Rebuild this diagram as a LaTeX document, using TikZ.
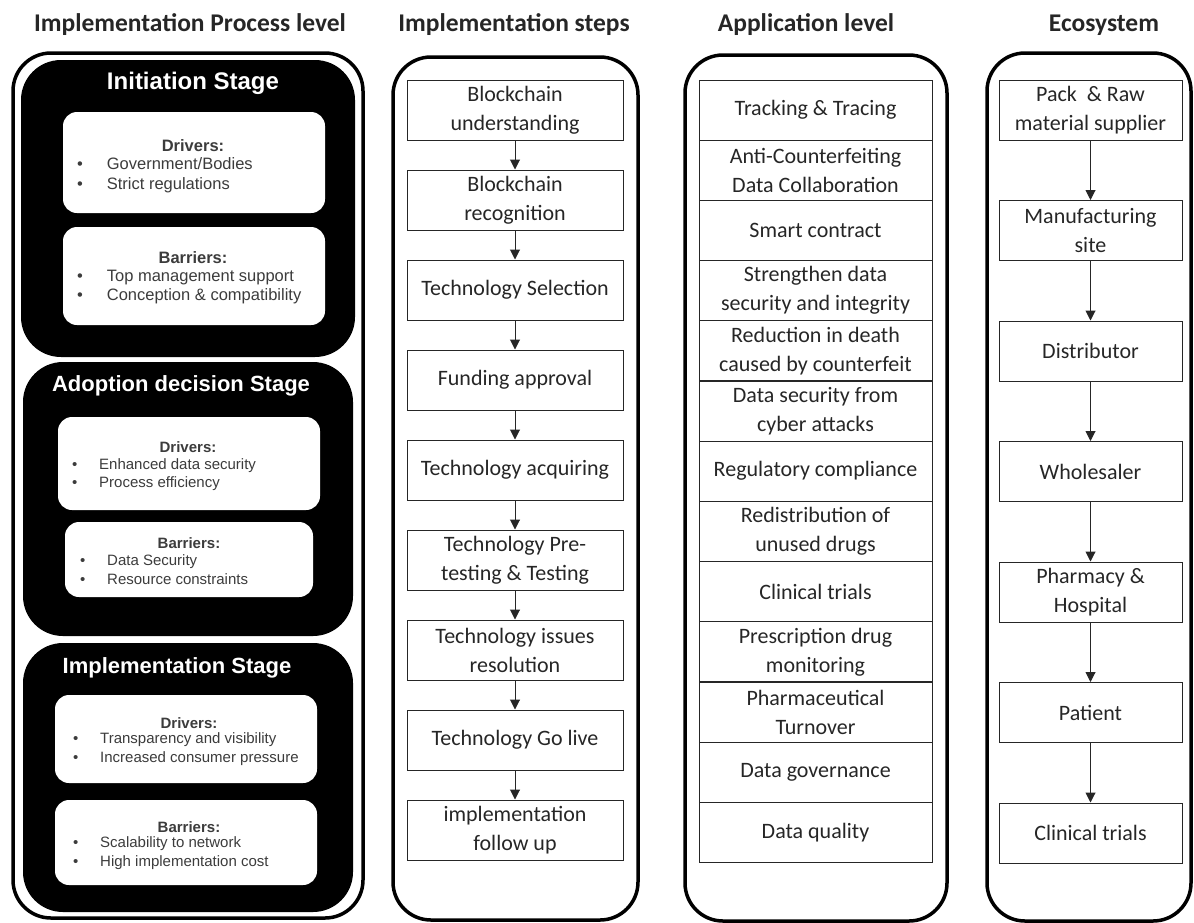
\documentclass[tikz,border=0pt]{standalone}
\usepackage{fontspec}
\setmainfont{Carlito}
\newfontfamily\arialfont{Liberation Sans}
\usetikzlibrary{arrows.meta, positioning}
\definecolor{ink}{HTML}{262626}
\definecolor{note}{HTML}{3C3C3C}
\newcommand{\bul}[1]{\makebox[1.8em][l]{\textbullet}#1}

\begin{document}
\begin{tikzpicture}[x=1pt, y=-1pt,
  colhead/.style={font=\fontsize{25.5}{30}\selectfont\bfseries, text=ink},
  frame/.style={draw=black, line width=3.5pt, rounded corners=38pt, inner sep=0pt},
  stage/.style={fill=black, rounded corners=40pt, inner sep=0pt},
  stagetitle/.style={text=white, font=\arialfont\bfseries\fontsize{22}{26}\selectfont},
  card/.style={fill=white, rounded corners=14pt, inner sep=0pt},
  cardhead/.style={font=\arialfont\bfseries\fontsize{16.5}{19.5}\selectfont, text=note},
  carditems/.style={font=\arialfont\fontsize{16.5}{19.5}\selectfont, text=note,
                    align=left, anchor=west, inner sep=0pt},
  smallhead/.style={cardhead, font=\arialfont\bfseries\fontsize{15}{18.5}\selectfont},
  smallitems/.style={carditems, font=\arialfont\fontsize{15}{18.5}\selectfont},
  stepbox/.style={draw=ink, line width=1pt, minimum width=216pt, minimum height=60pt,
                  align=center, font=\fontsize{22}{29}\selectfont, text=ink, inner sep=1pt},
  appbox/.style={stepbox, minimum width=233pt},
  ecobox/.style={stepbox, minimum width=183pt},
  flow/.style={-{Triangle[length=10pt,width=10pt]}, line width=1pt, draw=ink}
]
  \useasboundingbox (0,0) rectangle (1194,922);

  % column headings
  \node[colhead] (h1) at (190,25) {Implementation Process level};
  \node[colhead] (h2) at (514,25) {Implementation steps};
  \node[colhead] (h3) at (806,25) {Application level};
  \node[colhead] (h4) at (1104,25) {Ecosystem};

  % outer frames
  \node[frame, minimum width=350pt, minimum height=865pt] (f1) at (188,485.5) {};
  \node[frame, minimum width=245pt, minimum height=863pt] (f2) at (515.5,488.5) {};
  \node[frame, minimum width=262pt, minimum height=866pt] (f3) at (816,488) {};
  \node[frame, minimum width=204pt, minimum height=868pt] (f4) at (1089,487) {};

  % process level: stages
  \node[stage, minimum width=334pt, minimum height=297pt] (s1) at (188,208.5) {};
  \node[stage, minimum width=330pt, minimum height=274pt] (s2) at (188,499) {};
  \node[stage, minimum width=330pt, minimum height=269pt] (s3) at (188,777.5) {};
  \node[stagetitle, font=\arialfont\bfseries\fontsize{24}{28}\selectfont] (s1t) at (193,83) {Initiation Stage};
  \node[stagetitle] (s2t) at (181,386) {Adoption decision Stage};
  \node[stagetitle] (s3t) at (177,668) {Implementation Stage};

  \node[card, minimum width=262pt, minimum height=101pt] (d1) at (194,162.5) {};
  \node[cardhead] (d1h) at (193,146) {Drivers:};
  \node[carditems] (d1i) at (77,175) {\bul{Government/Bodies}\\\bul{Strict regulations}};
  \node[card, minimum width=262pt, minimum height=98pt] (b1) at (194,276) {};
  \node[cardhead] (b1h) at (193,258) {Barriers:};
  \node[carditems] (b1i) at (77,287) {\bul{Top management support}\\\bul{Conception \& compatibility}};

  \node[card, minimum width=262pt, minimum height=93pt] (d2) at (189,463.5) {};
  \node[smallhead] (d2h) at (188,447) {Drivers:};
  \node[smallitems] (d2i) at (72,474.5) {\bul{Enhanced data security}\\\bul{Process efficiency}};
  \node[card, minimum width=248pt, minimum height=75pt] (b2) at (189,559.5) {};
  \node[smallhead] (b2h) at (189,543) {Barriers:};
  \node[smallitems] (b2i) at (80,569.5) {\bul{Data Security}\\\bul{Resource constraints}};

  \node[card, minimum width=262pt, minimum height=88pt] (d3) at (186,739) {};
  \node[smallhead] (d3h) at (189,723) {Drivers:};
  \node[smallitems] (d3i) at (73,749) {\bul{Transparency and visibility}\\\bul{Increased consumer pressure}};
  \node[card, minimum width=262pt, minimum height=85pt] (b3) at (186,842.5) {};
  \node[smallhead] (b3h) at (189,827) {Barriers:};
  \node[smallitems] (b3i) at (73,853) {\bul{Scalability to network}\\\bul{High implementation cost}};

  % implementation steps
  \foreach \t [count=\i] in {{Blockchain\\understanding}, {Blockchain\\recognition},
      {Technology Selection}, {Funding approval}, {Technology acquiring},
      {Technology Pre-\\testing \& Testing}, {Technology issues\\resolution},
      {Technology Go live}, {implementation\\follow up}}
    \node[stepbox] (st\i) at (515,{110+90*(\i-1)}) {\t};
  \foreach \i [evaluate=\i as \j using int(\i+1)] in {1,...,8}
    \draw[flow] (st\i) -- (st\j);

  % application level
  \foreach \t [count=\i] in {{Tracking \& Tracing}, {Anti-Counterfeiting\\Data Collaboration},
      {Smart contract}, {Strengthen data\\security and integrity},
      {Reduction in death\\caused by counterfeit}, {Data security from\\cyber attacks},
      {Regulatory compliance}, {Redistribution of\\unused drugs}, {Clinical trials},
      {Prescription drug\\monitoring}, {Pharmaceutical\\Turnover}, {Data governance},
      {Data quality}}
    \node[appbox] (ap\i) at (815.5,{110+60.2*(\i-1)}) {\t};

  % ecosystem
  \foreach \t [count=\i] in {{Pack\ \ \& Raw\\material supplier}, {Manufacturing\\site},
      {Distributor}, {Wholesaler}, {Pharmacy \&\\Hospital}, {Patient}, {Clinical trials}}
    \node[ecobox] (ec\i) at (1090.5,{110+120.5*(\i-1)}) {\t};
  \foreach \i [evaluate=\i as \j using int(\i+1)] in {1,...,6}
    \draw[flow] (ec\i) -- (ec\j);
\end{tikzpicture}
\end{document}
